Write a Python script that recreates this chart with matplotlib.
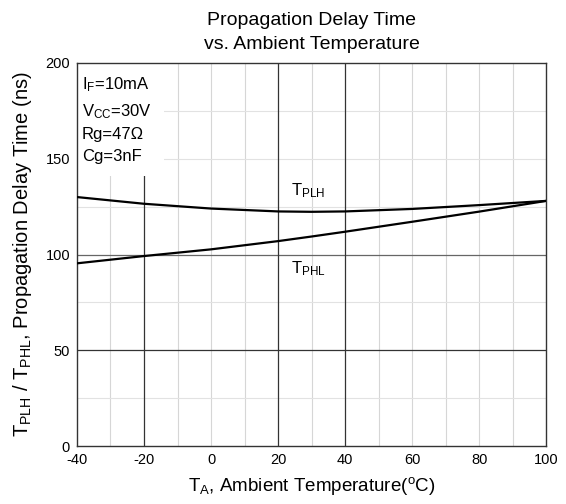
import numpy as np
import matplotlib
matplotlib.use("Agg")
from matplotlib import pyplot as plt

plt.rcParams['font.family'] = ['Liberation Sans', 'DejaVu Sans']
plt.rcParams['mathtext.fontset'] = 'custom'
plt.rcParams['mathtext.rm'] = 'Liberation Sans'
plt.rcParams['mathtext.it'] = 'Liberation Sans'
plt.rcParams['axes.unicode_minus'] = False

# values
temp = [-40, -20, 0, 20, 30, 40, 60, 80, 100]
tplh = [130, 126.5, 124, 122.5, 122.3, 122.5, 123.8, 125.8, 128]
tphl = [95.4, 99.2, 102.7, 107, 109.4, 111.9, 117.1, 122.4, 128]

xticks = [-40, -20, 0, 20, 40, 60, 80, 100]
yticks = [0, 50, 100, 150, 200]

fig = plt.figure(figsize=(5.66, 5.04), dpi=100)
ax = fig.add_axes([0.136, 0.115, 0.829, 0.76])

# light grid
for x in range(-30, 100, 10):
    if x in (-20, 20, 40):
        continue
    ax.axvline(x, color="#d6d6d6", lw=0.8, zorder=0)
for y in [25, 75, 125, 150, 175]:
    ax.axhline(y, color="#e2e2e2", lw=0.8, zorder=0)
# dark grid
ax.axhline(50, color="#333333", lw=0.9, zorder=1)
ax.axhline(100, color="#666666", lw=0.9, zorder=1)
for x in (-20, 20, 40):
    ax.axvline(x, color="#333333", lw=0.9, zorder=1)

ax.plot(temp, tplh, color="black", lw=1.6, zorder=3)
ax.plot(temp, tphl, color="black", lw=1.6, zorder=3)

ax.text(24, 131, r"T$_{\mathrm{PLH}}$", fontsize=12, zorder=4)
ax.text(24, 90, r"T$_{\mathrm{PHL}}$", fontsize=12, zorder=4)

# conditions box (white background hides the grid, spines stay on top)
ax.text(-38.5, 193.5,
        "I$_{\\mathrm{F}}$=10mA\nV$_{\\mathrm{CC}}$=30V\nRg=47\u03a9\nCg=3nF",
        fontsize=12, va="top", ha="left", linespacing=1.55, zorder=2.2,
        clip_on=True,
        bbox=dict(facecolor="white", edgecolor="none", pad=9))

ax.set_xlim(-40, 100)
ax.set_ylim(0, 200)
ax.set_xticks(xticks)
ax.set_yticks(yticks)
ax.tick_params(length=0, labelsize=10.5, pad=5)
for s in ax.spines.values():
    s.set_color("#333333")
    s.set_linewidth(1.0)

ax.set_title("Propagation Delay Time\nvs. Ambient Temperature", fontsize=14,
             linespacing=1.55, pad=10)
ax.set_xlabel(r"T$_{\mathrm{A}}$, Ambient Temperature($^{\mathrm{o}}$C)", fontsize=13.5, labelpad=6)
ax.set_ylabel(r"T$_{\mathrm{PLH}}$ / T$_{\mathrm{PHL}}$, Propagation Delay Time (ns)", fontsize=14.5, labelpad=8)

fig.savefig("out.png", dpi=100)
